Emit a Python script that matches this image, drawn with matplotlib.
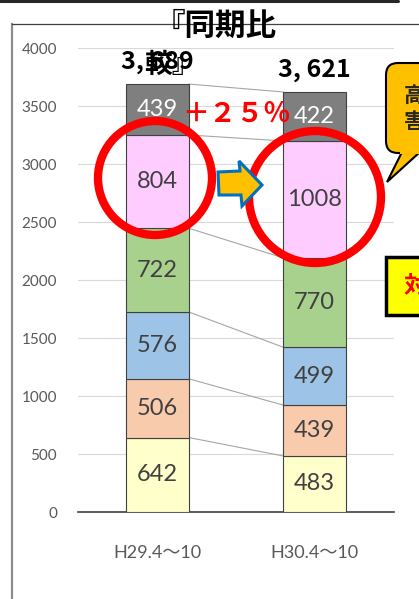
import matplotlib
matplotlib.use("Agg")
import matplotlib.pyplot as plt
from matplotlib.patches import Circle, FancyBboxPatch, Polygon, Rectangle

plt.rcParams['font.family'] = ['Lato', 'Noto Sans CJK JP', 'DejaVu Sans']

categories = ["H29.4～10", "H30.4～10"]
# stacked from bottom to top
seg_values = [
    [642, 483],
    [506, 439],
    [576, 499],
    [722, 770],
    [804, 1008],
    [439, 422],
]
seg_colors = ["#FFFFCC", "#F8CBAD", "#9DC3E6", "#A9D18E", "#FFCCFF", "#7F7F7F"]
label_colors = ["#404040"] * 5 + ["white"]
totals = [sum(v[i] for v in seg_values) for i in range(2)]
total_labels = ["3, 689", "3, 621"]
yticks = [0, 500, 1000, 1500, 2000, 2500, 3000, 3500, 4000]

W, H = 419, 599
fig = plt.figure(figsize=(W / 100, H / 100), dpi=100)

# overlay in pixel coordinates for slide decorations
ov = fig.add_axes([0, 0, 1, 1], zorder=0)
ov.set_xlim(0, W)
ov.set_ylim(H, 0)
ov.axis("off")
ov.plot([0, 398], [1, 1], color="#262626", lw=2.2, solid_capstyle="round")
ov.plot([12, 12], [24, H], color="#8C8C8C", lw=1.6)
ov.plot([12, W], [24, 24], color="#404040", lw=0.9)

ax = fig.add_axes([78 / W, (H - 512) / H, (394 - 78) / W, 464 / H], zorder=1)
ax.patch.set_alpha(0)
x = [0, 1]
bw = 0.40
bottom = [0, 0]
for vals, col, lc in zip(seg_values, seg_colors, label_colors):
    ax.bar(x, vals, bw, bottom=bottom, color=col, edgecolor="#404040", linewidth=0.8, zorder=3)
    for i in x:
        ax.text(i, bottom[i] + vals[i] / 2, str(vals[i]), ha="center", va="center",
                fontsize=17, color=lc, zorder=4)
    new_bottom = [bottom[i] + vals[i] for i in x]
    ax.plot([bw / 2, 1 - bw / 2], [new_bottom[0], new_bottom[1]], color="#A6A6A6", lw=0.8, zorder=2)
    bottom = new_bottom

for i in x:
    ax.text(i, totals[i] + 90, total_labels[i], ha="center", va="bottom", fontsize=18,
            fontweight="bold", family=["Noto Sans CJK JP"], color="black", zorder=5)

ax.set_xlim(-0.506, 1.506)
ax.set_ylim(0, 4000)
ax.set_yticks(yticks)
ax.set_yticklabels([str(t) for t in yticks], fontsize=11, color="#595959")
ax.set_xticks(x)
ax.set_xticklabels(categories, fontsize=13, color="#595959")
ax.tick_params(length=0)
ax.tick_params(axis="y", pad=15)
ax.tick_params(axis="x", pad=24)
ax.grid(axis="y", color="#D9D9D9", lw=0.8, zorder=0)
for s in ["top", "right", "left"]:
    ax.spines[s].set_visible(False)
ax.spines["bottom"].set_color("#404040")
ax.spines["bottom"].set_linewidth(1.2)
ax.set_axisbelow(True)

# annotations on top
top = fig.add_axes([0, 0, 1, 1], zorder=3)
top.set_xlim(0, W)
top.set_ylim(H, 0)
top.axis("off")
top.text(216, 26, "『同期比", ha="center", va="center", fontsize=22, fontweight="bold",
         family=["Noto Sans CJK JP"], color="black")
top.text(172, 65, "較』", ha="center", va="center", fontsize=20, fontweight="bold",
         family=["Noto Sans CJK JP"], color="black")
top.text(236, 114, "＋２５％", ha="center", va="center", fontsize=19.5, fontweight="bold",
         family=["Noto Sans CJK JP"], color="#FF0000")
top.add_patch(Circle((155, 178), 57, fill=False, ec="#FF0000", lw=6))
top.add_patch(Circle((315, 197), 66, fill=False, ec="#FF0000", lw=6))
arrow = [(218, 172), (240, 171), (239, 161), (262, 185), (242, 206), (241, 195), (219, 195)]
top.add_patch(Polygon(arrow, closed=True, fc="#FFC000", ec="#0070C0", lw=2.2))

# callout balloon (cut off at right edge)
top.add_patch(Polygon([(403, 150), (387, 182), (420, 152)], closed=True, fc="#FFC000",
                      ec="black", lw=1.5))
top.add_patch(FancyBboxPatch((386, 63), 60, 90, boxstyle="round,pad=0,rounding_size=12",
                             fc="#FFC000", ec="black", lw=1.5))
top.add_patch(Rectangle((400, 148), 25, 6, fc="#FFC000", ec="none"))
top.text(404, 95, "高", ha="left", va="center", fontsize=15, fontweight="bold",
         family=["Noto Sans CJK JP"], color="#262626")
top.text(404, 122, "害", ha="left", va="center", fontsize=15, fontweight="bold",
         family=["Noto Sans CJK JP"], color="#262626")

top.add_patch(Rectangle((386, 257), 50, 58, fc="#FFFF00", ec="black", lw=2.5))
top.text(404, 286, "対", ha="left", va="center", fontsize=17, fontweight="bold",
         family=["Noto Sans CJK JP"], color="#FF0000")

fig.savefig("out.png", dpi=100)
